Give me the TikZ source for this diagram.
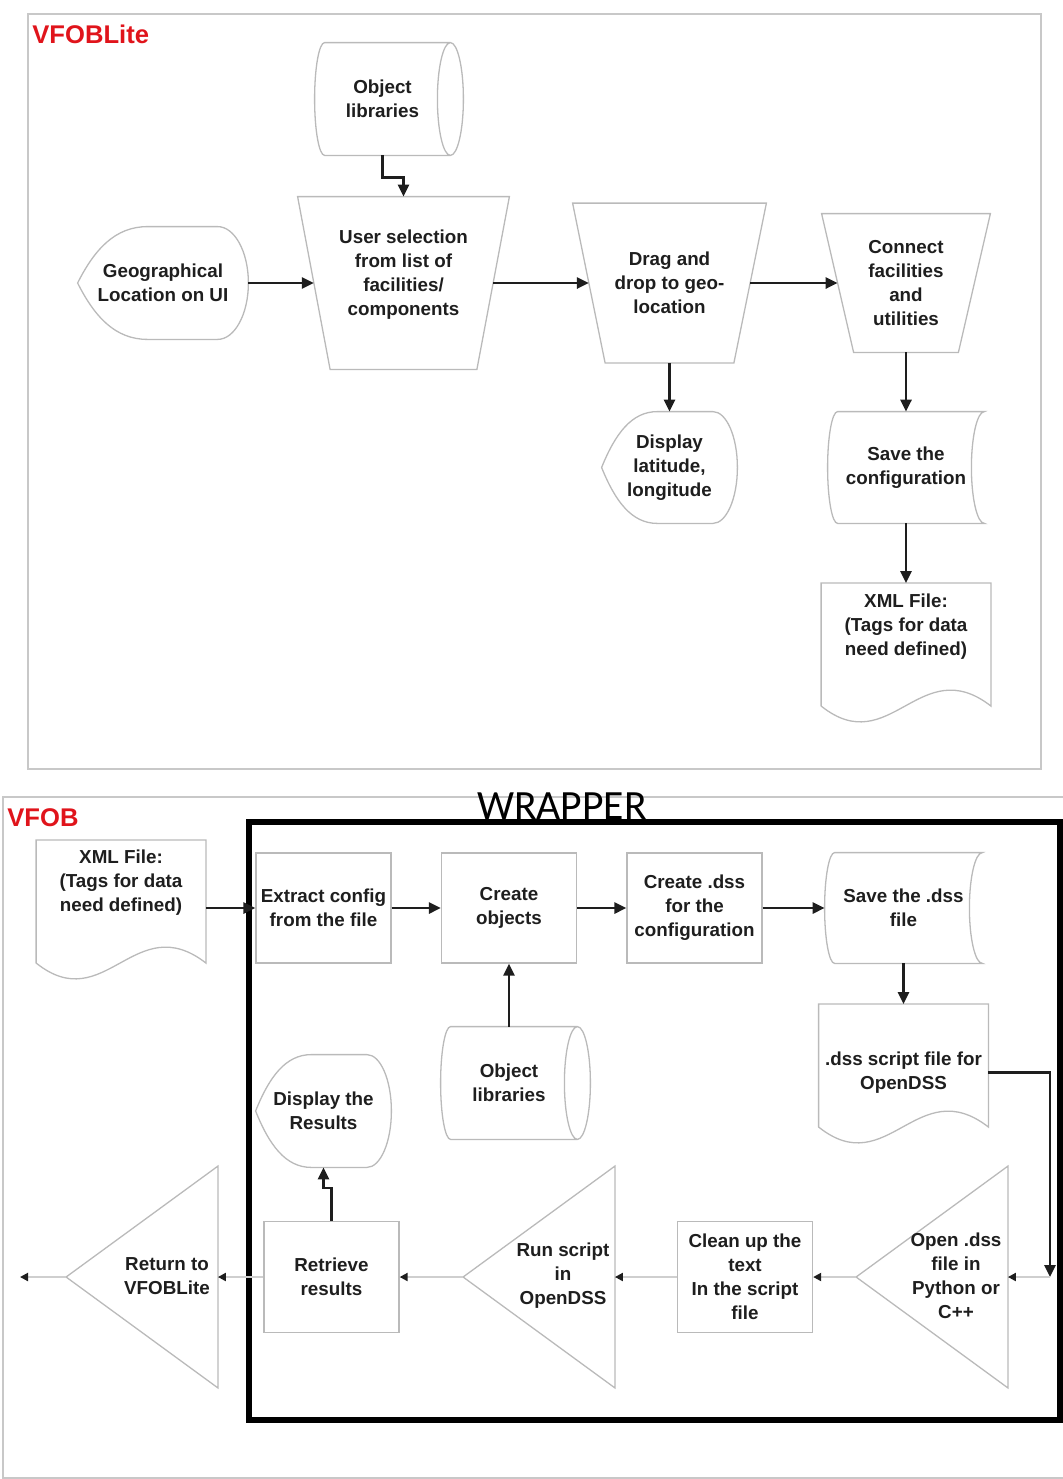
\documentclass[tikz,border=0pt]{standalone}
\usepackage{fontspec}
\setmainfont{Liberation Sans}
\newfontfamily\wrapfont{Carlito}
\usetikzlibrary{arrows.meta,calc}

\definecolor{shapegray}{HTML}{BABABA}
\definecolor{framegray}{HTML}{C8C8C8}
\definecolor{flowgray}{HTML}{CFCFCF}
\definecolor{titlered}{HTML}{E0141B}
\definecolor{inkcolor}{HTML}{1E1E1E}

% outline helpers for the flowchart symbols (drawn around a named box)
\newcommand\displayshape[1]{%
  \draw[outline] let \p1=(#1.north west), \p2=(#1.south east),
      \n1={\x2-\x1}, \n2={\y1-\y2} in
    (\x1,{(\y1+\y2)/2})
    .. controls ({\x1+0.10*\n1},{\y1-0.20*\n2}) and ({\x1+0.22*\n1},\y1) .. ({\x1+0.41*\n1},\y1)
    -- ({\x2-0.18*\n1},\y1)
    arc[start angle=90,end angle=-90,x radius={0.18*\n1*1pt},y radius={0.5*\n2*1pt}]
    -- ({\x1+0.41*\n1},\y2)
    .. controls ({\x1+0.22*\n1},\y2) and ({\x1+0.10*\n1},{\y2+0.20*\n2}) .. cycle;}
\newcommand\storedshape[1]{%
  \draw[outline] let \p1=(#1.north west), \p2=(#1.south east), \n2={\y1-\y2} in
    ({\x1+5pt},\y1) -- (\x2,\y1)
    arc[start angle=90,end angle=270,x radius=6.5pt,y radius={0.5*\n2*1pt}]
    -- ({\x1+5pt},\y2)
    arc[start angle=270,end angle=90,x radius=5pt,y radius={0.5*\n2*1pt}] -- cycle;}
\newcommand\drumshape[1]{%
  \draw[outline] let \p1=(#1.north west), \p2=(#1.south east), \n2={\y1-\y2} in
    ({\x1+5pt},\y1) -- (\x2,\y1)
    arc[start angle=90,end angle=-90,x radius=6.5pt,y radius={0.5*\n2*1pt}]
    -- ({\x1+5pt},\y2)
    arc[start angle=270,end angle=90,x radius=5pt,y radius={0.5*\n2*1pt}] -- cycle
    (\x2,\y1) arc[start angle=90,end angle=270,x radius=6.5pt,y radius={0.5*\n2*1pt}];}
\newcommand\docshape[1]{%
  \draw[outline] let \p1=(#1.north west), \p2=(#1.north east) in
    (\x1,{\y1-61.5pt}) -- (\x1,\y1) -- (\x2,\y1) -- (\x2,{\y1-61.5pt})
    .. controls ({\x2-35.5pt},{\y1-34pt}) and ({\x2-50.5pt},{\y1-89pt}) .. (\x1,{\y1-61.5pt});}
\newcommand\mergeshape[1]{%
  \draw[outline] (#1.north east) -- (#1.west) -- (#1.south east) -- cycle;}
% manual operation: wide top edge, bottom edge narrowed by #2 on each side
\newcommand\manualshape[2]{%
  \draw[outline] (#1.north west) -- (#1.north east) -- ($(#1.south east)+(-#2,0)$)
    -- ($(#1.south west)+(#2,0)$) -- cycle;}

\begin{document}
\begin{tikzpicture}[
  x=0.5pt, y=-0.5pt,
  lbl/.style={font=\bfseries\fontsize{9.4}{12}\selectfont, text=inkcolor,
              align=center, inner sep=0pt},
  outline/.style={draw=shapegray, line width=0.65pt},
  ghost/.style={lbl, rectangle, draw=none},
  procbox/.style={lbl, rectangle, outline, minimum width=67.5pt, minimum height=55pt},
  docbox/.style={ghost, anchor=north, minimum width=84.5pt},
  tribox/.style={ghost, minimum width=75.5pt, minimum height=110.5pt},
  arr/.style={line width=1.15pt, draw=inkcolor, -{Triangle[length=6pt,width=5.6pt]}},
  garr/.style={line width=1.2pt, draw=flowgray,
               -{Triangle[length=4pt,width=4pt,color=inkcolor]}},
  title/.style={font=\bfseries\fontsize{12.8}{14}\selectfont, text=titlered,
                inner sep=0pt, anchor=base west},
]
\useasboundingbox (0,0) rectangle (1063,1479);

% panel frames
\draw[framegray, line width=0.8pt] (28,14) rectangle (1041,769);
\draw[framegray, line width=1pt] (1063,797) -- (3,797) -- (3,1478) -- (1063,1478);
\draw[black, line width=3pt] (249,822) rectangle (1060,1420);

\node[title] (lite-title) at (32,43) {VFOBLite};
\node[title] (vfob-title) at (7,826) {VFOB};
\node[font=\wrapfont\fontsize{20.8}{22}\selectfont, inner sep=0pt, anchor=base]
  (wrap-title) at (562,819) {WRAPPER};

% ---------------- VFOBLite ----------------
\node[ghost, minimum width=67.5pt, minimum height=56pt] (objt) at (382.5,99) {Object\\libraries};
\drumshape{objt}
\node[ghost, minimum width=85pt, minimum height=56pt] (geo) at (163,283) {Geographical\\Location on UI};
\displayshape{geo}
\node[ghost, minimum width=105.5pt, minimum height=86pt] (usr) at (403.5,283) {};
\manualshape{usr}{32.5}
\node[lbl] (usr-txt) at (403.5,275) {User selection\\from list of\\facilities/\\components};
\node[ghost, minimum width=96.5pt, minimum height=79.5pt] (drag) at (669.5,283)
  {Drag and\\drop to geo-\\location};
\manualshape{drag}{32.5}
\node[ghost, minimum width=84pt, minimum height=69pt] (conn) at (906,283)
  {Connect\\facilities\\and\\utilities};
\manualshape{conn}{32}
\node[ghost, minimum width=67.5pt, minimum height=55.5pt] (dlat) at (669.5,467.5)
  {Display\\latitude,\\longitude};
\displayshape{dlat}
\node[ghost, minimum width=78pt, minimum height=55.5pt] (savec) at (906,467.5)
  {Save the\\configuration};
\storedshape{savec}
\node[docbox, minimum height=43pt] (xmlt) at (906,583) {XML File:\\(Tags for data\\need defined)};
\docshape{xmlt}

% the slanted sides of the manual-operation symbols sit half an inset in at mid height
\draw[arr] (objt.south) -- ++(0,22) -| (usr);
\draw[arr] (geo) -- ($(usr.west)+(16.25,0)$);
\draw[arr] ($(usr.east)+(-16.25,0)$) -- ($(drag.west)+(16.25,0)$);
\draw[arr] ($(drag.east)+(-16.25,0)$) -- ($(conn.west)+(16,0)$);
\draw[arr] (drag) -- (dlat);
\draw[arr] (conn) -- (savec);
\draw[arr] (savec) -- (xmlt);

% ---------------- VFOB ----------------
\node[docbox, minimum height=42pt] (xmlb) at (121,840) {XML File:\\(Tags for data\\need defined)};
\docshape{xmlb}
\node[procbox] (ext) at (323.5,908) {Extract config\\from the file};
\node[procbox] (cobj) at (509,908) {Create\\objects};
\node[procbox] (cdss) at (694.5,908) {Create .dss\\for the\\configuration};
\node[ghost, minimum width=78.5pt, minimum height=55pt] (saved) at (903.5,908) {Save the .dss\\file};
\storedshape{saved}
\node[docbox, minimum height=68pt] (dss) at (903.5,1004) {.dss script file for\\OpenDSS};
\docshape{dss}
\node[ghost, minimum width=68pt, minimum height=56pt] (objb) at (509,1083) {Object\\libraries};
\drumshape{objb}
\node[ghost, minimum width=67.5pt, minimum height=56pt] (dres) at (323.5,1111) {Display the\\Results};
\displayshape{dres}

\node[tribox] (open) at (932,1277) {};
\mergeshape{open}
\node[lbl] (open-txt) at (956,1276) {Open .dss\\file in\\Python or\\C++};
\node[procbox, minimum height=55.5pt] (clean) at (745,1277) {Clean up the\\text\\In the script\\file};
\node[tribox] (run) at (539,1277) {};
\mergeshape{run}
\node[lbl] (run-txt) at (563,1276) {Run script\\in\\OpenDSS};
\node[procbox, minimum height=55.5pt] (ret) at (331.5,1277) {Retrieve\\results};
\node[tribox] (back) at (142,1277) {};
\mergeshape{back}
\node[lbl] (back-txt) at (167,1276) {Return to\\VFOBLite};

\coordinate (drop) at (1050,1277);
\coordinate (exit) at (20,1277);

\draw[arr] (xmlb.east |- ext) -- (ext);
\draw[arr] (ext) -- (cobj);
\draw[arr] (cobj) -- (cdss);
\draw[arr] (cdss) -- (saved);
\draw[arr] (saved) -- (dss);
\draw[arr] (objb) -- (cobj);
\draw[arr] (dss.east) -| (drop);
\draw[garr] (drop) -- (open);
\draw[garr] (open) -- (clean);
\draw[garr] (clean) -- (run);
\draw[garr] (run) -- (ret);
\draw[garr] (ret) -- (back);
\draw[garr] (back) -- (exit);
\draw[arr] (ret.north) -- ++(0,-33) -| (dres);
\end{tikzpicture}
\end{document}
